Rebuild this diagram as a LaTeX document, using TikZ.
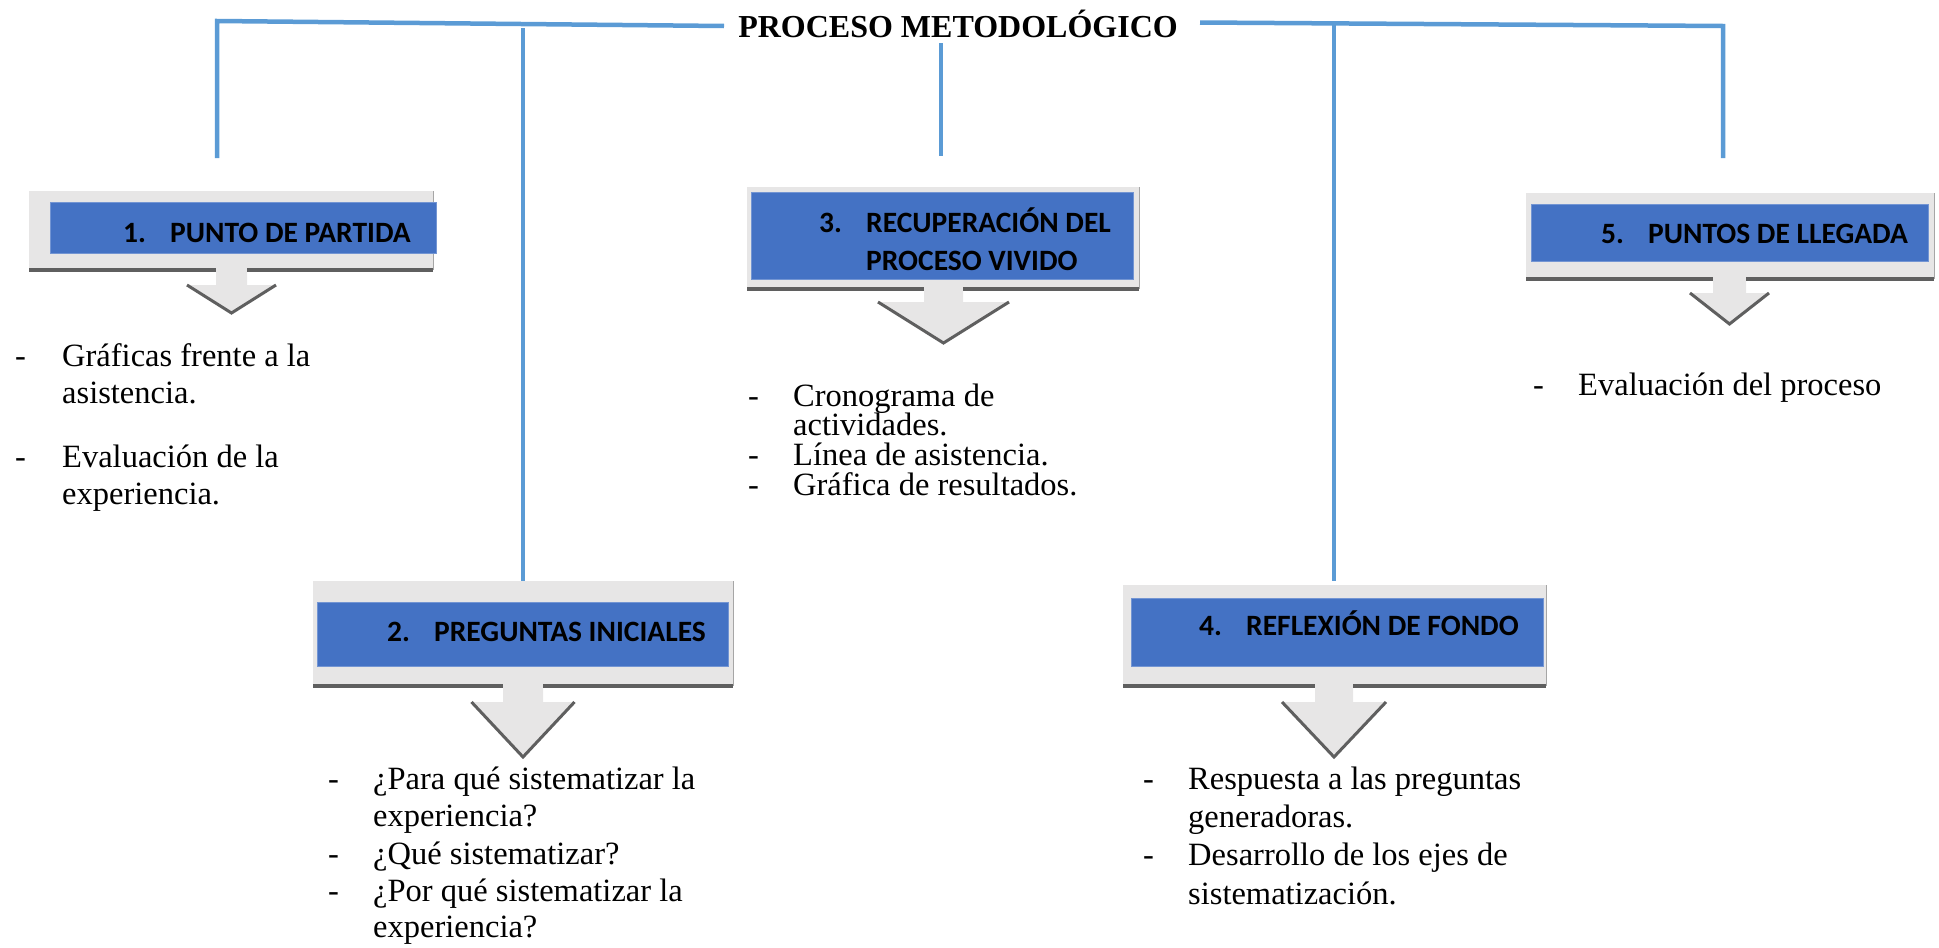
\documentclass[tikz,border=0pt]{standalone}
\usepackage{fontspec}
\setmainfont{Liberation Serif}
\newfontfamily\hdrfont{Carlito}
\definecolor{lineblue}{HTML}{5B9BD5}
\definecolor{boxblue}{HTML}{4472C4}
\definecolor{calloutgrey}{HTML}{E7E6E6}
\definecolor{shadowgrey}{HTML}{5F5F5F}
\tikzset{
  conn/.style={draw=lineblue, line width=4.5pt, line join=miter},
  txt/.style={anchor=base west, inner sep=0pt, font=\fontsize{32.5}{37}\selectfont},
  hdr/.style={anchor=base west, inner sep=0pt, font=\hdrfont\bfseries\fontsize{29.5}{35}\selectfont},
  ttl/.style={anchor=base, inner sep=0pt, font=\bfseries\fontsize{32}{36}\selectfont},
  bluebox/.style={fill=boxblue, draw=boxblue!75!white, line width=1pt, inner sep=0pt},
  shadowline/.style={draw=shadowgrey, line width=3.5pt},
}
% #1 x-left #2 x-right #3 y-top #4 y-bottom #5 stem centre #6 stem half width
% #7 head top y #8 head half width #9 tip y
\newcommand\callout[9]{%
  \fill[calloutgrey] (#1,#3) -- (#2,#3) -- (#2,#4) -- ({#5+#6},#4) -- ({#5+#6},#7)
    -- ({#5+#8},#7) -- (#5,#9) -- ({#5-#8},#7) -- ({#5-#6},#7) -- ({#5-#6},#4)
    -- (#1,#4) -- cycle;
  \draw[gray!70, line width=1pt] (#2,#3) -- (#2,#4);
  \draw[shadowline] (#1,#4) -- ({#5-#6},#4) ({#5+#6},#4) -- (#2,#4);
  \draw[shadowline, line width=3pt, line join=miter] ({#5-#8},#7) -- (#5,#9) -- ({#5+#8},#7);
}
\begin{document}
\begin{tikzpicture}[x=1pt, y=-1pt]
\useasboundingbox (0,0) rectangle (1939,948);

% title
\node[ttl] (title) at (958,37.5) {PROCESO METODOLÓGICO};

% callouts
\callout{29}{433}{191}{270}{231.5}{15.5}{285}{44.5}{313}
\callout{313}{733}{581}{686}{523}{20}{702}{51.5}{757}
\callout{747}{1139}{187}{289}{943.5}{19.5}{302}{65.5}{343}
\callout{1123}{1546}{585}{686}{1334}{19}{702}{52}{757}
\callout{1526}{1934}{193}{279}{1729.5}{16.5}{293}{39.5}{324}

% blue boxes
\node[bluebox, minimum width=386pt, minimum height=51pt] (b1) at (243,227.5) {};
\node[bluebox, minimum width=411pt, minimum height=64pt] (b2) at (522.5,634) {};
\node[bluebox, minimum width=382pt, minimum height=87pt] (b3) at (942,235.5) {};
\node[bluebox, minimum width=412pt, minimum height=68pt] (b4) at (1337,632) {};
\node[bluebox, minimum width=397pt, minimum height=57pt] (b5) at (1729.5,232.5) {};

% headers
\node[hdr] (h1) at (123,242) {\makebox[47pt][l]{1.}PUNTO DE PARTIDA};
\node[hdr] (h2) at (387,641) {\makebox[47pt][l]{2.}PREGUNTAS INICIALES};
\node[hdr] (h3) at (819,232) {\makebox[47pt][l]{3.}RECUPERACIÓN DEL};
\node[hdr] (h3b) at (866,270) {PROCESO VIVIDO};
\node[hdr] (h4) at (1199,635) {\makebox[47pt][l]{4.}REFLEXIÓN DE FONDO};
\node[hdr] (h5) at (1601,243) {\makebox[47pt][l]{5.}PUNTOS DE LLEGADA};

% connectors
\coordinate (tl) at (217,21);
\coordinate (tlend) at (724,26);
\coordinate (e1) at (217,158);
\coordinate (v2top) at (523,28);
\coordinate (e2) at (523,581);
\coordinate (v3top) at (941,43);
\coordinate (e3) at (941,156);
\coordinate (trstart) at (1200,22.5);
\coordinate (tr) at (1723,26);
\coordinate (e5) at (1723,158);
\coordinate (v4top) at (1334,24);
\coordinate (e4) at (1334,581);
\draw[conn] (e1) -- (tl) -- (tlend);
\draw[conn] (v2top) -- (e2);
\draw[conn] (v3top) -- (e3);
\draw[conn] (trstart) -- (tr) -- (e5);
\draw[conn] (v4top) -- (e4);

% list 1
\node[txt] (d1a) at (15,366) {-};
\node[txt] (l1a) at (62,366) {Gráficas frente a la};
\node[txt] (l1b) at (62,403) {asistencia.};
\node[txt] (d1c) at (15,467) {-};
\node[txt] (l1c) at (62,467) {Evaluación de la};
\node[txt] (l1d) at (62,504) {experiencia.};

% list 2
\node[txt] (d2a) at (328,789) {-};
\node[txt] (l2a) at (373,789) {¿Para qué sistematizar la};
\node[txt] (l2b) at (373,826) {experiencia?};
\node[txt] (d2c) at (328,864) {-};
\node[txt] (l2c) at (373,864) {¿Qué sistematizar?};
\node[txt] (d2d) at (328,901) {-};
\node[txt] (l2d) at (373,901) {¿Por qué sistematizar la};
\node[txt] (l2e) at (373,937) {experiencia?};

% list 3
\node[txt] (d3a) at (748,406) {-};
\node[txt] (l3a) at (793,406) {Cronograma de};
\node[txt] (l3b) at (793,435) {actividades.};
\node[txt] (d3c) at (748,465) {-};
\node[txt] (l3c) at (793,465) {Línea de asistencia.};
\node[txt] (d3d) at (748,495) {-};
\node[txt] (l3d) at (793,495) {Gráfica de resultados.};

% list 4
\node[txt] (d4a) at (1143,789) {-};
\node[txt] (l4a) at (1188,789) {Respuesta a las preguntas};
\node[txt] (l4b) at (1188,827) {generadoras.};
\node[txt] (d4c) at (1143,865) {-};
\node[txt] (l4c) at (1188,865) {Desarrollo de los ejes de};
\node[txt] (l4d) at (1188,904) {sistematización.};

% list 5
\node[txt] (d5a) at (1533,395) {-};
\node[txt] (l5a) at (1578,395) {Evaluación del proceso};
\end{tikzpicture}
\end{document}
